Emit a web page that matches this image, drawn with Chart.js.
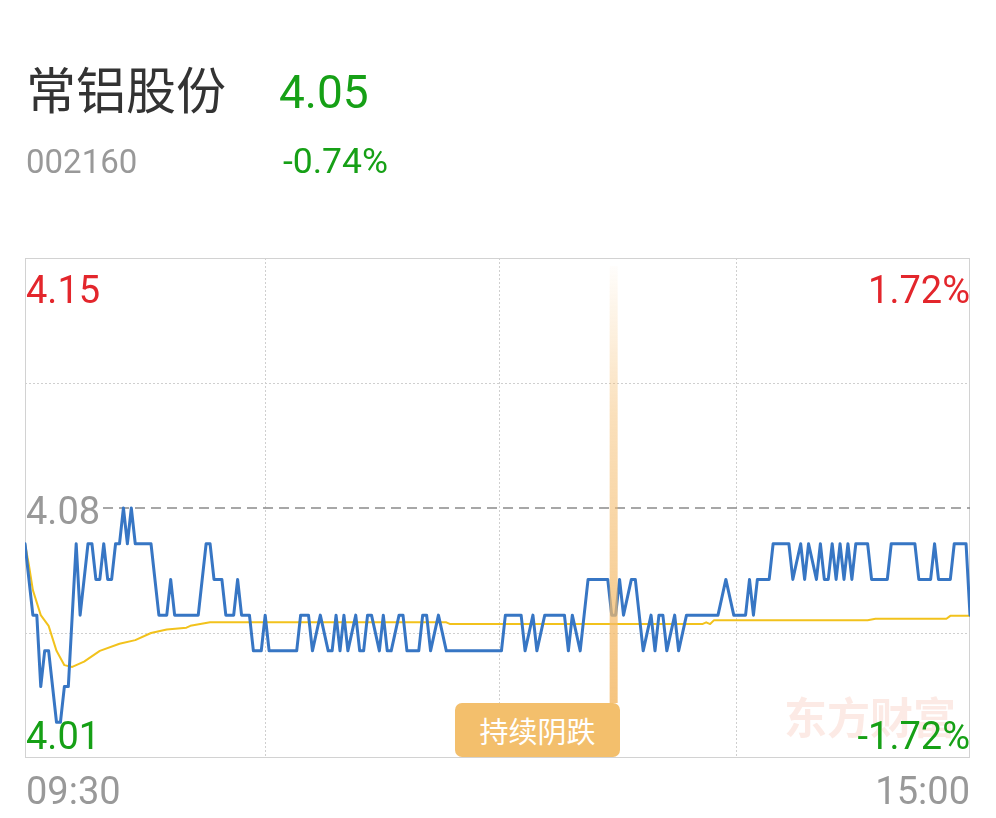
<!DOCTYPE html>
<html>
<head>
<meta charset="utf-8">
<script src="https://cdn.jsdelivr.net/npm/chart.js"></script>
<style>
  body { margin: 0; background: #fff; }
  #page { position: relative; width: 996px; height: 818px; overflow: hidden; font-family: Roboto, "Noto Sans CJK SC", sans-serif; }
  #page canvas { position: absolute; left: 0; top: 0; }
  .t { position: absolute; white-space: nowrap; line-height: 1; }
  .cjk { font-family: "Noto Sans CJK SC", sans-serif; }
  .r { text-align: right; }
</style>
</head>
<body>
<div id="page">
  <canvas id="chart" width="996" height="818"></canvas>

  <div class="t cjk" style="left:26px;top:62px;font-size:50px;color:#333;">常铝股份</div>
  <div class="t" style="left:279px;top:69px;font-size:46px;color:#16a016;">4.05</div>
  <div class="t" style="left:26px;top:145px;font-size:33px;color:#999;">002160</div>
  <div class="t" style="left:283px;top:144px;font-size:35.5px;color:#16a016;">-0.74%</div>

  <div class="t cjk" style="left:784px;top:694px;font-size:43px;font-weight:bold;color:rgba(236,130,100,0.17);">东方财富</div>

  <div class="t" style="left:26px;top:271px;font-size:38px;color:#e3262c;">4.15</div>
  <div class="t r" style="right:26px;top:271px;font-size:38px;color:#e3262c;">1.72%</div>
  <div class="t" style="left:26px;top:492px;font-size:38px;color:#999;">4.08</div>
  <div class="t" style="left:26px;top:717px;font-size:38px;color:#16a016;">4.01</div>
  <div class="t r" style="right:26px;top:717px;font-size:38px;color:#16a016;">-1.72%</div>
  <div class="t" style="left:26px;top:772px;font-size:38px;color:#999;">09:30</div>
  <div class="t r" style="right:26px;top:772px;font-size:38px;color:#999;">15:00</div>

  <div class="t cjk" style="left:455px;top:703px;width:165px;height:54px;border-radius:7px;background:#f3bf6c;color:#fff;font-size:29px;line-height:54px;text-align:center;">持续阴跌</div>
</div>

<script>
// previous close and price range of the day view
const prevClose = 4.08;
const priceTop = 4.15;
const priceBottom = 4.01;
const markMinute = 149.5;   // 持续阴跌 marker

// last price, minute index from 09:30 (0..240)
const priceMin = [0, 2, 3, 4, 5, 6, 8, 9, 10, 11, 13, 14, 16, 17, 18, 19, 20, 21, 22, 23,
  24, 25, 26, 27, 28, 32, 34, 36, 37, 38, 44, 46, 47, 48, 50, 51, 53, 54, 55, 57,
  58, 60, 61, 62, 69, 70, 72, 73, 75, 77, 78, 79, 80, 81, 82, 84, 85, 86, 87, 88,
  90, 91, 92, 93, 95, 96, 97, 100, 101, 102, 103, 105, 107, 121, 122, 126, 127, 129, 130, 132,
  137, 138, 139, 141, 143, 148, 149, 150, 151, 152, 154, 155, 157, 159, 160, 161, 162, 163, 165, 166,
  168, 176, 178, 180, 183, 184, 185, 186, 189, 190, 194, 195, 197, 198, 199, 201, 202, 203, 204, 205,
  206, 207, 208, 209, 210, 211, 214, 215, 219, 220, 226, 227, 230, 231, 232, 235, 236, 239, 240];
const priceVal = [4.07, 4.05, 4.05, 4.03, 4.04, 4.04, 4.02, 4.02, 4.03, 4.03, 4.07, 4.05, 4.07, 4.07, 4.06, 4.06, 4.07, 4.06, 4.06, 4.07,
  4.07, 4.08, 4.07, 4.08, 4.07, 4.07, 4.05, 4.05, 4.06, 4.05, 4.05, 4.07, 4.07, 4.06, 4.06, 4.05, 4.05, 4.06, 4.05, 4.05,
  4.04, 4.04, 4.05, 4.04, 4.04, 4.05, 4.05, 4.04, 4.05, 4.04, 4.04, 4.05, 4.04, 4.05, 4.04, 4.05, 4.04, 4.04, 4.05, 4.05,
  4.04, 4.05, 4.04, 4.04, 4.05, 4.05, 4.04, 4.04, 4.05, 4.05, 4.04, 4.05, 4.04, 4.04, 4.05, 4.05, 4.04, 4.05, 4.04, 4.05,
  4.05, 4.04, 4.05, 4.04, 4.06, 4.06, 4.05, 4.05, 4.06, 4.05, 4.06, 4.06, 4.04, 4.05, 4.04, 4.05, 4.05, 4.04, 4.05, 4.04,
  4.05, 4.05, 4.06, 4.05, 4.05, 4.06, 4.05, 4.06, 4.06, 4.07, 4.07, 4.06, 4.07, 4.06, 4.07, 4.06, 4.07, 4.06, 4.06, 4.07,
  4.06, 4.07, 4.06, 4.07, 4.06, 4.07, 4.07, 4.06, 4.06, 4.07, 4.07, 4.06, 4.06, 4.07, 4.06, 4.06, 4.07, 4.07, 4.05];

// average price line
const avgMin = [0, 1, 2, 4, 6, 8, 10, 12, 15, 19, 24, 28, 32, 36, 41, 42, 47, 107, 108, 172, 173, 174, 175, 214, 216, 234, 235, 240];
const avgVal = [4.07, 4.064, 4.057, 4.05, 4.047, 4.04, 4.036, 4.0355, 4.037, 4.04, 4.042, 4.043, 4.045, 4.046, 4.0465, 4.047, 4.048, 4.048, 4.0475, 4.0475, 4.048, 4.0475, 4.0486, 4.0486, 4.049, 4.049, 4.0498, 4.0498];

const pts = (xs, ys) => xs.map((m, i) => ({x: m, y: ys[i]}));

const gridPlugin = {
  id: 'grid',
  beforeDatasetsDraw(chart) {
    const {ctx, chartArea: a, scales: {x, y}} = chart;
    ctx.save();
    ctx.lineWidth = 1;
    ctx.strokeStyle = '#cfcfcf';
    ctx.setLineDash([2, 2]);
    [61, 120.5, 180.5].forEach(m => {
      const px = Math.round(x.getPixelForValue(m)) + 0.5;
      ctx.beginPath(); ctx.moveTo(px, a.top); ctx.lineTo(px, a.bottom); ctx.stroke();
    });
    [(priceTop + prevClose) / 2, (priceBottom + prevClose) / 2].forEach(v => {
      const py = Math.round(y.getPixelForValue(v)) + 0.5;
      ctx.beginPath(); ctx.moveTo(a.left, py); ctx.lineTo(a.right, py); ctx.stroke();
    });
    ctx.setLineDash([]);
    ctx.strokeStyle = '#d2d2d2';
    ctx.strokeRect(a.left + 0.5, a.top + 0.5, a.width - 1, a.height - 1);
    ctx.strokeStyle = '#8a8a8a';
    ctx.lineWidth = 1.5;
    ctx.setLineDash([10, 6]);
    const py = y.getPixelForValue(prevClose);
    ctx.beginPath(); ctx.moveTo(a.left + 78, py); ctx.lineTo(a.right, py); ctx.stroke();
    ctx.restore();
  },
  afterDatasetsDraw(chart) {
    const {ctx, chartArea: a, scales: {x}} = chart;
    const px = x.getPixelForValue(markMinute);
    const g = ctx.createLinearGradient(0, a.top, 0, 703);
    g.addColorStop(0, 'rgba(244,186,105,0)');
    g.addColorStop(0.35, 'rgba(244,186,105,0.45)');
    g.addColorStop(1, 'rgba(244,186,105,0.85)');
    ctx.save();
    ctx.fillStyle = g;
    ctx.fillRect(px - 4, a.top + 8, 8, 703 - a.top - 8);
    ctx.restore();
  }
};

const chart = new Chart(document.getElementById('chart'), {
  type: 'line',
  data: {
    datasets: [{
      label: '价格',
      data: pts(priceMin, priceVal),
      borderColor: '#3776c4',
      borderWidth: 3,
      borderJoinStyle: 'round',
      borderCapStyle: 'round',
      pointRadius: 0,
      tension: 0
    }, {
      label: '均价',
      data: pts(avgMin, avgVal),
      borderColor: '#f2c21c',
      borderWidth: 2,
      borderJoinStyle: 'round',
      pointRadius: 0,
      tension: 0
    }]
  },
  options: {
    responsive: false,
    animation: false,
    events: [],
    layout: {padding: {left: 25, right: 26, top: 258, bottom: 60}},
    plugins: {legend: {display: false}, tooltip: {enabled: false}},
    scales: {
      x: {type: 'linear', min: 0, max: 240, display: false},
      y: {min: priceBottom, max: priceTop, display: false}
    }
  },
  plugins: [gridPlugin]
});
</script>
</body>
</html>
